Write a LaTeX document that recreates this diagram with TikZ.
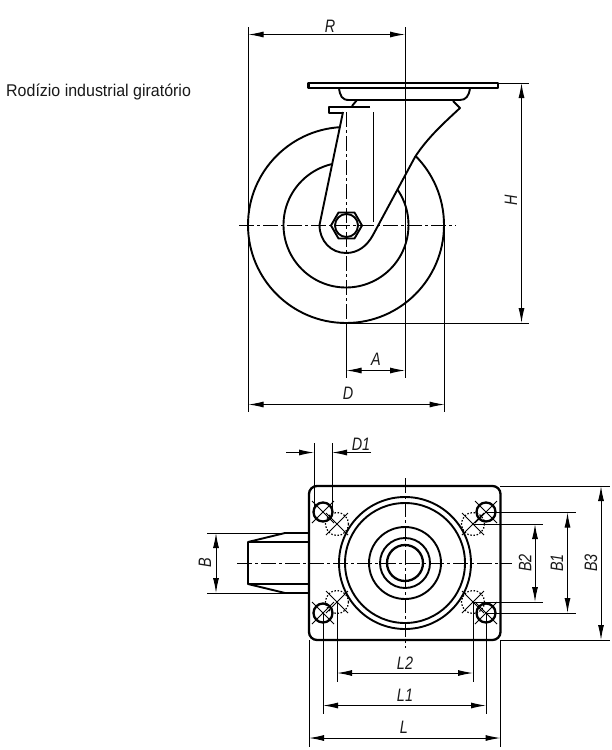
\documentclass[tikz,border=0pt]{standalone}
\usepackage{fontspec}
\setmainfont{Liberation Sans}
\newfontfamily\captionfont[FakeStretch=0.94]{Liberation Sans}
\newfontfamily\dimfont[FakeStretch=0.8]{Liberation Sans Italic}
\usetikzlibrary{arrows.meta}
\tikzset{
  part/.style={line width=1.9pt,line join=round},
  heavy/.style={line width=2.3pt},
  thin/.style={line width=1pt},
  centre/.style={line width=1pt,dash pattern=on 15pt off 3pt on 3pt off 3pt},
  hidden/.style={line width=1.2pt,dash pattern=on 1.5pt off 1.7pt},
  dim/.style={line width=1pt,{Latex[length=15pt,width=6pt]}-{Latex[length=15pt,width=6pt]}},
  tipr/.style={line width=1pt,-{Latex[length=15pt,width=6pt]}},
  lab/.style={font=\dimfont\fontsize{18pt}{18pt}\selectfont,inner sep=0pt,text=black!90},
  rlab/.style={lab,rotate=90}
}
\begin{document}
\begin{tikzpicture}[x=1pt,y=-1pt]
\useasboundingbox (0,0) rectangle (612,750);
\fill[white] (0,0) rectangle (612,750);
% caption
\node[anchor=west,inner sep=0pt,font=\captionfont\fontsize{17pt}{17pt}\selectfont,text=black!90] (title) at (6,92.5) {Rodízio industrial giratório};
% side view: wheel
\draw[part] (346,225) circle (98);
\draw[part] (346,225) circle (62.5);
% fork
\fill[white] (343,108) -- (319.5,225) .. controls (319.5,241) and (331,253) .. (346,253) .. controls (358,253) and (367,246) .. (373,235) -- (415,157) .. controls (428,137) and (445,122) .. (460,108) -- (453,100) -- cycle;
\draw[part] (343,112) -- (319.5,225) .. controls (319.5,241) and (331,253) .. (346,253) .. controls (358,253) and (367,246) .. (373,235) -- (415,157) .. controls (428,137) and (445,122) .. (460,108) -- (453,101);
% plate & bracket
\draw[part,line width=2.1pt] (308.5,83) rectangle (498,88);
\draw[part] (339,88) .. controls (340,96) and (342,100) .. (349,100) -- (460,100) .. controls (466,100) and (469,96) .. (470,88);
\draw[part] (352,106) -- (357,100);
% latch
\draw[part] (370,107) -- (329,107) -- (329,113) -- (343,113);
\draw[thin] (373,112) -- (373,222);
% hex axle
\draw[part] (331,225.5) -- (338.5,212.5) -- (354.5,212.5) -- (362,225.5) -- (354.5,238.5) -- (338.5,238.5) -- cycle;
\draw[part] (346.5,225.5) circle (11.5);
% side view centre lines
\draw[centre] (346.5,112) -- (346.5,345);
\draw[centre] (239,225) -- (456,225);
% side view dims
\draw[thin] (248.5,27) -- (248.5,412);
\draw[thin] (405,27) -- (405,378);
\draw[thin] (444.5,225) -- (444.5,412);
\draw[thin] (346.5,325) -- (346.5,378);
\draw[thin] (498,83) -- (529,83);
\draw[thin] (346,323) -- (529,323);
\draw[dim] (248.5,34.5) -- (405,34.5);
\draw[dim] (521.5,83) -- (521.5,323);
\draw[dim] (346.5,370.5) -- (405,370.5);
\draw[dim] (248.5,404.5) -- (444.5,404.5);
\node[lab] (labR) at (330,26) {R};
\node[rlab] (labH) at (511,200) {H};
\node[lab] (labA) at (376,359) {A};
\node[lab] (labD) at (348,393) {D};
% plan view
\draw[heavy] (317,486) -- (492.5,486) arc (-90:0:8) -- (500.5,632) arc (0:90:8) -- (317,640) arc (90:180:8) -- (309,494) arc (180:270:8) -- cycle;
\foreach \r/\w in {66/1.9,60/1.9,36/1.9,25/1.9,18/2.3}
  \draw[line width=\w pt] (405,563) circle (\r);
% wheel stub
\draw[part] (308,533) -- (285,533) -- (248,542) -- (248,584) -- (285,593) -- (308,593);
\draw[part] (248,542) -- (308,542);
\draw[part] (248,584) -- (308,584);
% holes
\foreach \x/\y in {323/512,486/512,323/613,486/613}{
  \draw[heavy] (\x,\y) circle (9.5);
  \draw[thin] (\x-11,\y-11) -- (\x+11,\y+11);
  \draw[thin] (\x-11,\y+11) -- (\x+11,\y-11);
}
\foreach \x/\y in {337/524,473/524,337/602,473/602}{
  \draw[hidden] (\x,\y) circle (11.5);
  \draw[thin] (\x-11,\y-11) -- (\x+11,\y+11);
  \draw[thin] (\x-11,\y+11) -- (\x+11,\y-11);
}
% plan centre lines
\draw[centre] (237,563) -- (512,563);
\draw[centre] (405,478) -- (405,648);
% D1
\draw[thin] (314,443) -- (314,512);
\draw[thin] (332,443) -- (332,512);
\draw[tipr] (286,452.5) -- (314,452.5);
\draw[tipr] (371,452.5) -- (332,452.5);
\node[lab] (labDone) at (361,444) {D1};
% B
\draw[thin] (207,533) -- (309,533);
\draw[thin] (207,593) -- (309,593);
\draw[dim] (216,533) -- (216,593);
\node[rlab] (labB) at (205,563) {B};
% B2 B1 B3
\draw[thin] (473,524) -- (543,524);
\draw[thin] (473,602) -- (543,602);
\draw[dim] (535,524) -- (535,602);
\node[rlab] (labBtwo) at (525,563) {B2};
\draw[thin] (486,512.5) -- (576,512.5);
\draw[thin] (486,613) -- (576,613);
\draw[dim] (567.5,512.5) -- (567.5,613);
\node[rlab] (labBone) at (557,563) {B1};
\draw[thin] (500,486) -- (610,486);
\draw[thin] (500,640) -- (610,640);
\draw[dim] (601,486) -- (601,640);
\node[rlab] (labBthree) at (591,563) {B3};
% L2 L1 L
\draw[thin] (337,602) -- (337,682);
\draw[thin] (473,602) -- (473,682);
\draw[dim] (337,673) -- (473,673);
\node[lab] (labLtwo) at (405,663) {L2};
\draw[thin] (323,613) -- (323,714);
\draw[thin] (486,613) -- (486,714);
\draw[dim] (323,705.5) -- (486,705.5);
\node[lab] (labLone) at (405,695) {L1};
\draw[thin] (309,640) -- (309,747);
\draw[thin] (500.5,640) -- (500.5,747);
\draw[dim] (309,738) -- (500.5,738);
\node[lab] (labL) at (404,727) {L};
\end{tikzpicture}
\end{document}
